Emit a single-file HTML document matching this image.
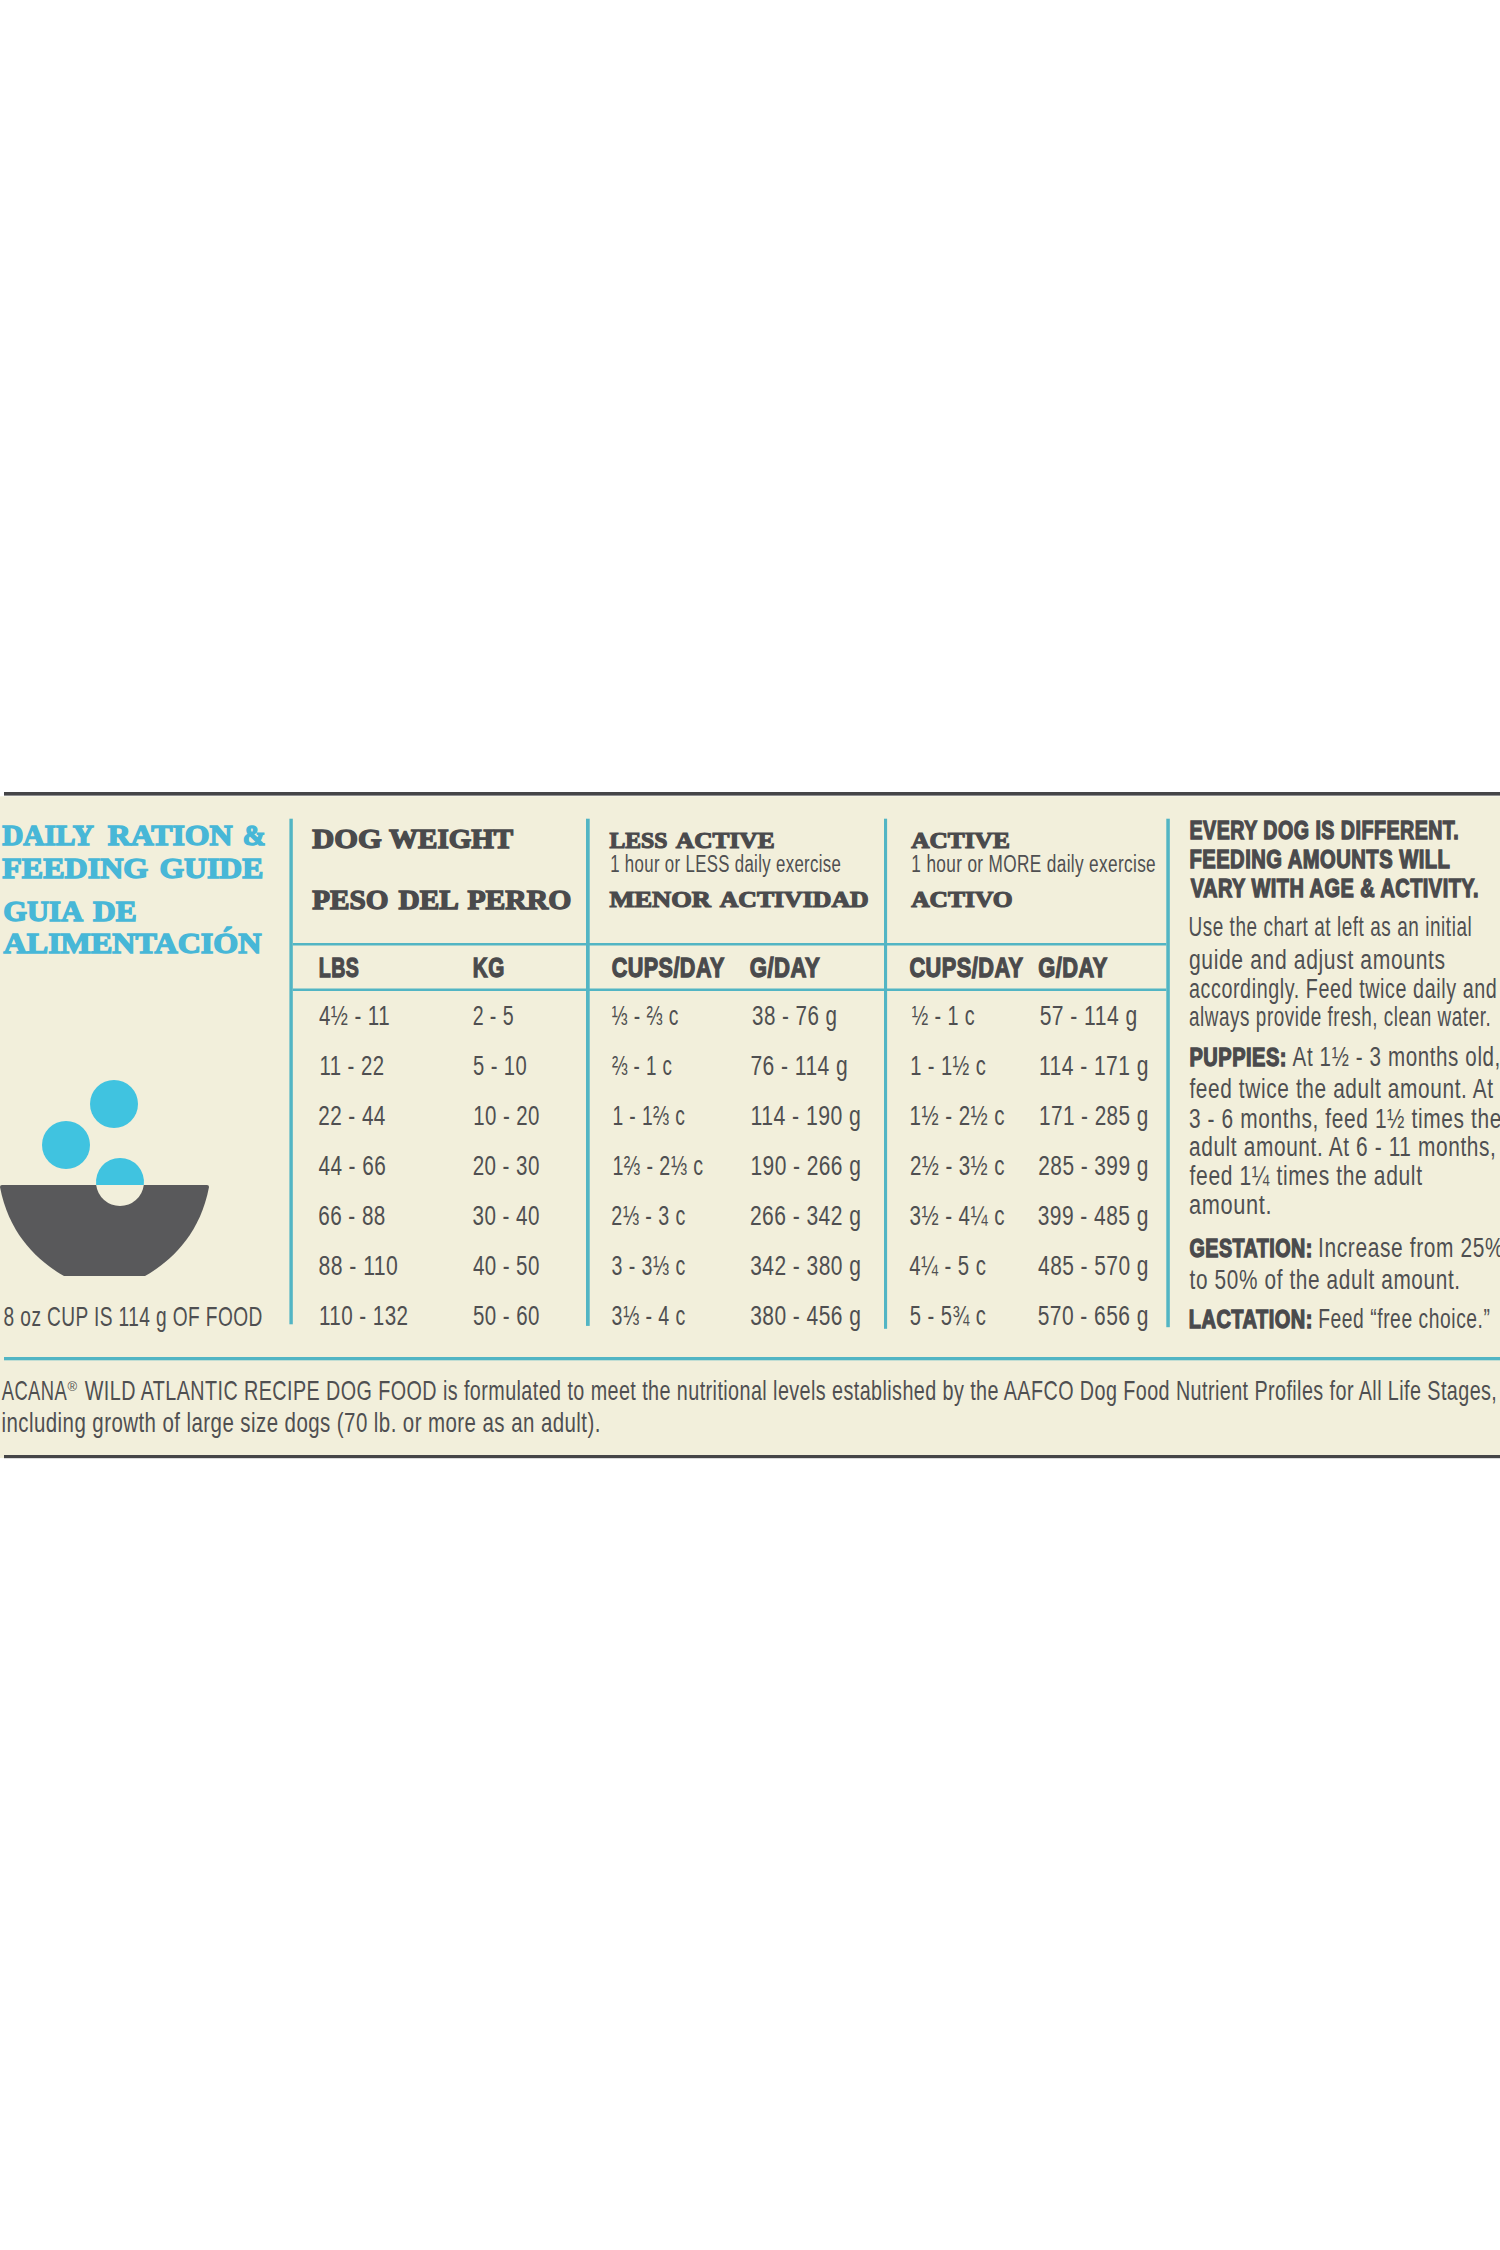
<!DOCTYPE html>
<html><head><meta charset="utf-8"><style>
html,body{margin:0;padding:0;background:#fff;}
body{width:1500px;height:2250px;overflow:hidden;font-family:"Liberation Sans",sans-serif;}
svg{display:block;}
</style></head><body>
<svg width="1500" height="2250" viewBox="0 0 1500 2250">
<rect x="0" y="0" width="1500" height="2250" fill="#ffffff"/>

<rect x="0" y="796.3" width="1500" height="661.7" fill="#f2efdb"/>
<rect x="4" y="792" width="1496" height="3.6" fill="#454547"/>
<rect x="4" y="1455" width="1496" height="3.2" fill="#454547"/>
<rect x="4" y="1357" width="1496" height="3.3" fill="#52b5c4"/>
<rect x="289.4" y="818.7" width="3.4" height="505.6" fill="#52b5c4"/>
<rect x="586" y="818.7" width="3.7" height="507.2" fill="#52b5c4"/>
<rect x="884" y="818.7" width="3.1" height="510.1" fill="#52b5c4"/>
<rect x="1166.3" y="818.7" width="3.5" height="508.5" fill="#52b5c4"/>
<rect x="292.8" y="943" width="873.5" height="2.5" fill="#52b5c4"/>
<rect x="292.8" y="988.5" width="873.5" height="2.5" fill="#52b5c4"/>
<circle cx="114" cy="1104" r="24" fill="#40c3e0"/>
<circle cx="66" cy="1145" r="24" fill="#40c3e0"/>
<path d="M0,1187 Q0,1185 2,1185 L207,1185 Q209,1185 209,1187 C200,1235 170,1262 145,1276 L64,1276 C39,1262 9,1235 0,1187 Z" fill="#59595b"/>
<path d="M96.19,1185 A24,24 0 1 1 143.81,1185 Z" fill="#40c3e0"/>
<path d="M96.19,1185 A24,24 0 0 0 143.81,1185 Z" fill="#f2efdb"/>

<text transform="translate(2.24 845.00) scale(0.9950 1)" font-family="'Liberation Serif'" font-weight="bold" font-size="29.41" fill="#47b7d7" stroke="#47b7d7" stroke-width="1.4">DAILY</text>
<text transform="translate(107.66 845.00) scale(1.0824 1)" font-family="'Liberation Serif'" font-weight="bold" font-size="29.41" fill="#47b7d7" stroke="#47b7d7" stroke-width="1.4">RATION</text>
<text transform="translate(242.67 845.00) scale(0.9336 1)" font-family="'Liberation Serif'" font-weight="bold" font-size="29.41" fill="#47b7d7" stroke="#47b7d7" stroke-width="1.4">&amp;</text>
<text transform="translate(2.26 877.60) scale(1.0901 1)" font-family="'Liberation Serif'" font-weight="bold" font-size="29.41" fill="#47b7d7" stroke="#47b7d7" stroke-width="1.4">FEEDING</text>
<text transform="translate(159.47 877.60) scale(1.0767 1)" font-family="'Liberation Serif'" font-weight="bold" font-size="29.41" fill="#47b7d7" stroke="#47b7d7" stroke-width="1.4">GUIDE</text>
<text transform="translate(3.30 920.80) scale(1.0388 1)" font-family="'Liberation Serif'" font-weight="bold" font-size="29.41" fill="#47b7d7" stroke="#47b7d7" stroke-width="1.4">GUIA</text>
<text transform="translate(93.06 920.80) scale(1.0675 1)" font-family="'Liberation Serif'" font-weight="bold" font-size="29.41" fill="#47b7d7" stroke="#47b7d7" stroke-width="1.4">DE</text>
<text transform="translate(3.56 952.80) scale(1.0918 1)" font-family="'Liberation Serif'" font-weight="bold" font-size="29.41" fill="#47b7d7" stroke="#47b7d7" stroke-width="1.4">ALIMENTACIÓN</text>
<text transform="translate(3.60 1326.30) scale(0.6854 1)" font-family="'Liberation Sans'" font-weight="normal" font-size="27.88" letter-spacing="0.6" fill="#4f4f51">8 oz CUP IS 114 g OF FOOD</text>
<text transform="translate(312.28 848.40) scale(1.0870 1)" font-family="'Liberation Serif'" font-weight="bold" font-size="28.04" fill="#4a4a4c" stroke="#4a4a4c" stroke-width="1.4">DOG</text>
<text transform="translate(389.02 848.40) scale(1.0357 1)" font-family="'Liberation Serif'" font-weight="bold" font-size="28.04" fill="#4a4a4c" stroke="#4a4a4c" stroke-width="1.4">WEIGHT</text>
<text transform="translate(312.27 908.80) scale(1.0414 1)" font-family="'Liberation Serif'" font-weight="bold" font-size="28.04" fill="#4a4a4c" stroke="#4a4a4c" stroke-width="1.4">PESO</text>
<text transform="translate(398.47 908.80) scale(1.0463 1)" font-family="'Liberation Serif'" font-weight="bold" font-size="28.04" fill="#4a4a4c" stroke="#4a4a4c" stroke-width="1.4">DEL</text>
<text transform="translate(467.38 908.80) scale(1.0584 1)" font-family="'Liberation Serif'" font-weight="bold" font-size="28.04" fill="#4a4a4c" stroke="#4a4a4c" stroke-width="1.4">PERRO</text>
<text transform="translate(609.42 848.20) scale(0.9855 1)" font-family="'Liberation Serif'" font-weight="bold" font-size="24.08" fill="#4a4a4c" stroke="#4a4a4c" stroke-width="1.2">LESS</text>
<text transform="translate(675.83 848.20) scale(1.0549 1)" font-family="'Liberation Serif'" font-weight="bold" font-size="24.08" fill="#4a4a4c" stroke="#4a4a4c" stroke-width="1.2">ACTIVE</text>
<text transform="translate(609.45 907.00) scale(1.0983 1)" font-family="'Liberation Serif'" font-weight="bold" font-size="24.08" fill="#4a4a4c" stroke="#4a4a4c" stroke-width="1.2">MENOR</text>
<text transform="translate(719.64 907.00) scale(1.0716 1)" font-family="'Liberation Serif'" font-weight="bold" font-size="24.08" fill="#4a4a4c" stroke="#4a4a4c" stroke-width="1.2">ACTIVIDAD</text>
<text transform="translate(911.13 848.20) scale(1.0549 1)" font-family="'Liberation Serif'" font-weight="bold" font-size="24.08" fill="#4a4a4c" stroke="#4a4a4c" stroke-width="1.2">ACTIVE</text>
<text transform="translate(911.14 907.00) scale(1.0604 1)" font-family="'Liberation Serif'" font-weight="bold" font-size="24.08" fill="#4a4a4c" stroke="#4a4a4c" stroke-width="1.2">ACTIVO</text>
<text transform="translate(610.15 871.80) scale(0.7028 1)" font-family="'Liberation Sans'" font-weight="normal" font-size="23.89" letter-spacing="0.5" fill="#4f4f51">1 hour or LESS daily exercise</text>
<text transform="translate(911.32 871.80) scale(0.7205 1)" font-family="'Liberation Sans'" font-weight="normal" font-size="23.89" letter-spacing="0.5" fill="#4f4f51">1 hour or MORE daily exercise</text>
<text transform="translate(318.83 977.40) scale(0.7064 1)" font-family="'Liberation Sans'" font-weight="bold" font-size="27.73" letter-spacing="0.6" fill="#4a4a4c" stroke="#4a4a4c" stroke-width="1.3">LBS</text>
<text transform="translate(472.79 977.40) scale(0.7452 1)" font-family="'Liberation Sans'" font-weight="bold" font-size="27.73" letter-spacing="0.6" fill="#4a4a4c" stroke="#4a4a4c" stroke-width="1.3">KG</text>
<text transform="translate(611.63 977.40) scale(0.7782 1)" font-family="'Liberation Sans'" font-weight="bold" font-size="27.73" letter-spacing="0.6" fill="#4a4a4c" stroke="#4a4a4c" stroke-width="1.3">CUPS/DAY</text>
<text transform="translate(749.73 977.40) scale(0.7983 1)" font-family="'Liberation Sans'" font-weight="bold" font-size="27.73" letter-spacing="0.6" fill="#4a4a4c" stroke="#4a4a4c" stroke-width="1.3">G/DAY</text>
<text transform="translate(909.43 977.40) scale(0.7851 1)" font-family="'Liberation Sans'" font-weight="bold" font-size="27.73" letter-spacing="0.6" fill="#4a4a4c" stroke="#4a4a4c" stroke-width="1.3">CUPS/DAY</text>
<text transform="translate(1038.23 977.40) scale(0.7869 1)" font-family="'Liberation Sans'" font-weight="bold" font-size="27.73" letter-spacing="0.6" fill="#4a4a4c" stroke="#4a4a4c" stroke-width="1.3">G/DAY</text>
<text transform="translate(318.88 1025.10) scale(0.7329 1)" font-family="'Liberation Sans'" font-weight="normal" font-size="28.02" letter-spacing="0.6" fill="#4f4f51">4½ - 11</text>
<text transform="translate(472.68 1025.10) scale(0.6998 1)" font-family="'Liberation Sans'" font-weight="normal" font-size="28.02" letter-spacing="0.6" fill="#4f4f51">2 - 5</text>
<text transform="translate(611.60 1025.10) scale(0.6885 1)" font-family="'Liberation Sans'" font-weight="normal" font-size="28.02" letter-spacing="0.6" fill="#4f4f51">⅓ - ⅔ c</text>
<text transform="translate(752.06 1025.10) scale(0.7357 1)" font-family="'Liberation Sans'" font-weight="normal" font-size="28.02" letter-spacing="0.6" fill="#4f4f51">38 - 76 g</text>
<text transform="translate(911.69 1025.10) scale(0.7061 1)" font-family="'Liberation Sans'" font-weight="normal" font-size="28.02" letter-spacing="0.6" fill="#4f4f51">½ - 1 c</text>
<text transform="translate(1039.64 1025.10) scale(0.7532 1)" font-family="'Liberation Sans'" font-weight="normal" font-size="28.02" letter-spacing="0.6" fill="#4f4f51">57 - 114 g</text>
<text transform="translate(319.53 1075.10) scale(0.7267 1)" font-family="'Liberation Sans'" font-weight="normal" font-size="28.02" letter-spacing="0.6" fill="#4f4f51">11 - 22</text>
<text transform="translate(472.97 1075.10) scale(0.7198 1)" font-family="'Liberation Sans'" font-weight="normal" font-size="28.02" letter-spacing="0.6" fill="#4f4f51">5 - 10</text>
<text transform="translate(611.91 1075.10) scale(0.6710 1)" font-family="'Liberation Sans'" font-weight="normal" font-size="28.02" letter-spacing="0.6" fill="#4f4f51">⅔ - 1 c</text>
<text transform="translate(750.41 1075.10) scale(0.7519 1)" font-family="'Liberation Sans'" font-weight="normal" font-size="28.02" letter-spacing="0.6" fill="#4f4f51">76 - 114 g</text>
<text transform="translate(910.24 1075.10) scale(0.7177 1)" font-family="'Liberation Sans'" font-weight="normal" font-size="28.02" letter-spacing="0.6" fill="#4f4f51">1 - 1½ c</text>
<text transform="translate(1038.99 1075.10) scale(0.7509 1)" font-family="'Liberation Sans'" font-weight="normal" font-size="28.02" letter-spacing="0.6" fill="#4f4f51">114 - 171 g</text>
<text transform="translate(318.23 1125.10) scale(0.7397 1)" font-family="'Liberation Sans'" font-weight="normal" font-size="28.02" letter-spacing="0.6" fill="#4f4f51">22 - 44</text>
<text transform="translate(473.22 1125.10) scale(0.7286 1)" font-family="'Liberation Sans'" font-weight="normal" font-size="28.02" letter-spacing="0.6" fill="#4f4f51">10 - 20</text>
<text transform="translate(612.50 1125.10) scale(0.6867 1)" font-family="'Liberation Sans'" font-weight="normal" font-size="28.02" letter-spacing="0.6" fill="#4f4f51">1 - 1⅔ c</text>
<text transform="translate(750.47 1125.10) scale(0.7579 1)" font-family="'Liberation Sans'" font-weight="normal" font-size="28.02" letter-spacing="0.6" fill="#4f4f51">114 - 190 g</text>
<text transform="translate(909.62 1125.10) scale(0.7334 1)" font-family="'Liberation Sans'" font-weight="normal" font-size="28.02" letter-spacing="0.6" fill="#4f4f51">1½ - 2½ c</text>
<text transform="translate(1039.00 1125.10) scale(0.7401 1)" font-family="'Liberation Sans'" font-weight="normal" font-size="28.02" letter-spacing="0.6" fill="#4f4f51">171 - 285 g</text>
<text transform="translate(318.38 1175.10) scale(0.7416 1)" font-family="'Liberation Sans'" font-weight="normal" font-size="28.02" letter-spacing="0.6" fill="#4f4f51">44 - 66</text>
<text transform="translate(472.63 1175.10) scale(0.7352 1)" font-family="'Liberation Sans'" font-weight="normal" font-size="28.02" letter-spacing="0.6" fill="#4f4f51">20 - 30</text>
<text transform="translate(612.47 1175.10) scale(0.7012 1)" font-family="'Liberation Sans'" font-weight="normal" font-size="28.02" letter-spacing="0.6" fill="#4f4f51">1⅔ - 2⅓ c</text>
<text transform="translate(750.49 1175.10) scale(0.7470 1)" font-family="'Liberation Sans'" font-weight="normal" font-size="28.02" letter-spacing="0.6" fill="#4f4f51">190 - 266 g</text>
<text transform="translate(909.94 1175.10) scale(0.7309 1)" font-family="'Liberation Sans'" font-weight="normal" font-size="28.02" letter-spacing="0.6" fill="#4f4f51">2½ - 3½ c</text>
<text transform="translate(1038.32 1175.10) scale(0.7447 1)" font-family="'Liberation Sans'" font-weight="normal" font-size="28.02" letter-spacing="0.6" fill="#4f4f51">285 - 399 g</text>
<text transform="translate(318.23 1225.10) scale(0.7399 1)" font-family="'Liberation Sans'" font-weight="normal" font-size="28.02" letter-spacing="0.6" fill="#4f4f51">66 - 88</text>
<text transform="translate(472.56 1225.10) scale(0.7360 1)" font-family="'Liberation Sans'" font-weight="normal" font-size="28.02" letter-spacing="0.6" fill="#4f4f51">30 - 40</text>
<text transform="translate(611.28 1225.10) scale(0.7022 1)" font-family="'Liberation Sans'" font-weight="normal" font-size="28.02" letter-spacing="0.6" fill="#4f4f51">2⅓ - 3 c</text>
<text transform="translate(749.91 1225.10) scale(0.7510 1)" font-family="'Liberation Sans'" font-weight="normal" font-size="28.02" letter-spacing="0.6" fill="#4f4f51">266 - 342 g</text>
<text transform="translate(909.56 1225.10) scale(0.7339 1)" font-family="'Liberation Sans'" font-weight="normal" font-size="28.02" letter-spacing="0.6" fill="#4f4f51">3½ - 4¼ c</text>
<text transform="translate(1037.74 1225.10) scale(0.7487 1)" font-family="'Liberation Sans'" font-weight="normal" font-size="28.02" letter-spacing="0.6" fill="#4f4f51">399 - 485 g</text>
<text transform="translate(318.54 1275.10) scale(0.7565 1)" font-family="'Liberation Sans'" font-weight="normal" font-size="28.02" letter-spacing="0.6" fill="#4f4f51">88 - 110</text>
<text transform="translate(472.88 1275.10) scale(0.7325 1)" font-family="'Liberation Sans'" font-weight="normal" font-size="28.02" letter-spacing="0.6" fill="#4f4f51">40 - 50</text>
<text transform="translate(611.59 1275.10) scale(0.6992 1)" font-family="'Liberation Sans'" font-weight="normal" font-size="28.02" letter-spacing="0.6" fill="#4f4f51">3 - 3⅓ c</text>
<text transform="translate(750.24 1275.10) scale(0.7487 1)" font-family="'Liberation Sans'" font-weight="normal" font-size="28.02" letter-spacing="0.6" fill="#4f4f51">342 - 380 g</text>
<text transform="translate(909.28 1275.10) scale(0.7269 1)" font-family="'Liberation Sans'" font-weight="normal" font-size="28.02" letter-spacing="0.6" fill="#4f4f51">4¼ - 5 c</text>
<text transform="translate(1038.07 1275.10) scale(0.7464 1)" font-family="'Liberation Sans'" font-weight="normal" font-size="28.02" letter-spacing="0.6" fill="#4f4f51">485 - 570 g</text>
<text transform="translate(318.91 1325.10) scale(0.7367 1)" font-family="'Liberation Sans'" font-weight="normal" font-size="28.02" letter-spacing="0.6" fill="#4f4f51">110 - 132</text>
<text transform="translate(472.96 1325.10) scale(0.7316 1)" font-family="'Liberation Sans'" font-weight="normal" font-size="28.02" letter-spacing="0.6" fill="#4f4f51">50 - 60</text>
<text transform="translate(611.59 1325.10) scale(0.6992 1)" font-family="'Liberation Sans'" font-weight="normal" font-size="28.02" letter-spacing="0.6" fill="#4f4f51">3⅓ - 4 c</text>
<text transform="translate(750.24 1325.10) scale(0.7487 1)" font-family="'Liberation Sans'" font-weight="normal" font-size="28.02" letter-spacing="0.6" fill="#4f4f51">380 - 456 g</text>
<text transform="translate(909.87 1325.10) scale(0.7213 1)" font-family="'Liberation Sans'" font-weight="normal" font-size="28.02" letter-spacing="0.6" fill="#4f4f51">5 - 5¾ c</text>
<text transform="translate(1037.74 1325.10) scale(0.7487 1)" font-family="'Liberation Sans'" font-weight="normal" font-size="28.02" letter-spacing="0.6" fill="#4f4f51">570 - 656 g</text>
<text transform="translate(1189.48 839.40) scale(0.7811 1)" font-family="'Liberation Sans'" font-weight="bold" font-size="25.17" letter-spacing="0.6" fill="#4a4a4c" stroke="#4a4a4c" stroke-width="1.3">EVERY DOG IS DIFFERENT.</text>
<text transform="translate(1189.46 868.20) scale(0.8014 1)" font-family="'Liberation Sans'" font-weight="bold" font-size="25.17" letter-spacing="0.6" fill="#4a4a4c" stroke="#4a4a4c" stroke-width="1.3">FEEDING AMOUNTS WILL</text>
<text transform="translate(1190.72 897.40) scale(0.7927 1)" font-family="'Liberation Sans'" font-weight="bold" font-size="25.17" letter-spacing="0.6" fill="#4a4a4c" stroke="#4a4a4c" stroke-width="1.3">VARY WITH AGE &amp; ACTIVITY.</text>
<text transform="translate(1188.42 935.90) scale(0.7081 1)" font-family="'Liberation Sans'" font-weight="normal" font-size="26.74" letter-spacing="0.8" fill="#4f4f51">Use the chart at left as an initial</text>
<text transform="translate(1188.94 968.90) scale(0.7892 1)" font-family="'Liberation Sans'" font-weight="normal" font-size="26.74" letter-spacing="0.8" fill="#4f4f51">guide and adjust amounts</text>
<text transform="translate(1188.98 997.70) scale(0.7373 1)" font-family="'Liberation Sans'" font-weight="normal" font-size="26.74" letter-spacing="0.8" fill="#4f4f51">accordingly. Feed twice daily and</text>
<text transform="translate(1189.01 1025.50) scale(0.7061 1)" font-family="'Liberation Sans'" font-weight="normal" font-size="26.74" letter-spacing="0.8" fill="#4f4f51">always provide fresh, clean water.</text>
<text transform="translate(1189.47 1065.60) scale(0.8063 1)" font-family="'Liberation Sans'" font-weight="bold" font-size="24.89" letter-spacing="0.6" fill="#4a4a4c" stroke="#4a4a4c" stroke-width="1.3">PUPPIES:</text>
<text transform="translate(1292.60 1065.60) scale(0.7693 1)" font-family="'Liberation Sans'" font-weight="normal" font-size="26.74" letter-spacing="0.8" fill="#4f4f51">At 1½ - 3 months old,</text>
<text transform="translate(1189.40 1098.20) scale(0.7796 1)" font-family="'Liberation Sans'" font-weight="normal" font-size="26.74" letter-spacing="0.8" fill="#4f4f51">feed twice the adult amount. At</text>
<text transform="translate(1188.95 1127.50) scale(0.7809 1)" font-family="'Liberation Sans'" font-weight="normal" font-size="26.74" letter-spacing="0.8" fill="#4f4f51">3 - 6 months, feed 1½ times the</text>
<text transform="translate(1188.95 1155.90) scale(0.7803 1)" font-family="'Liberation Sans'" font-weight="normal" font-size="26.74" letter-spacing="0.8" fill="#4f4f51">adult amount. At 6 - 11 months,</text>
<text transform="translate(1189.60 1184.70) scale(0.7864 1)" font-family="'Liberation Sans'" font-weight="normal" font-size="26.74" letter-spacing="0.8" fill="#4f4f51">feed 1¼ times the adult</text>
<text transform="translate(1188.92 1213.50) scale(0.8149 1)" font-family="'Liberation Sans'" font-weight="normal" font-size="26.74" letter-spacing="0.8" fill="#4f4f51">amount.</text>
<text transform="translate(1189.50 1256.70) scale(0.7914 1)" font-family="'Liberation Sans'" font-weight="bold" font-size="24.89" letter-spacing="0.6" fill="#4a4a4c" stroke="#4a4a4c" stroke-width="1.3">GESTATION:</text>
<text transform="translate(1318.07 1256.70) scale(0.7822 1)" font-family="'Liberation Sans'" font-weight="normal" font-size="26.74" letter-spacing="0.8" fill="#4f4f51">Increase from 25%</text>
<text transform="translate(1189.60 1289.30) scale(0.7782 1)" font-family="'Liberation Sans'" font-weight="normal" font-size="26.74" letter-spacing="0.8" fill="#4f4f51">to 50% of the adult amount.</text>
<text transform="translate(1188.87 1327.70) scale(0.8029 1)" font-family="'Liberation Sans'" font-weight="bold" font-size="24.89" letter-spacing="0.6" fill="#4a4a4c" stroke="#4a4a4c" stroke-width="1.3">LACTATION:</text>
<text transform="translate(1318.20 1327.70) scale(0.7194 1)" font-family="'Liberation Sans'" font-weight="normal" font-size="26.74" letter-spacing="0.8" fill="#4f4f51">Feed “free choice.”</text>
<text transform="translate(1.80 1400.00) scale(0.6593 1)" font-family="'Liberation Sans'" font-weight="normal" font-size="27.88" letter-spacing="0.6" fill="#4f4f51">ACANA</text>
<text transform="translate(67.60 1390.80) scale(1.0213 1)" font-family="'Liberation Sans'" font-weight="normal" font-size="12.8" fill="#4f4f51">®</text>
<text transform="translate(84.80 1400.00) scale(0.7087 1)" font-family="'Liberation Sans'" font-weight="normal" font-size="27.88" letter-spacing="0.6" fill="#4f4f51">WILD ATLANTIC RECIPE DOG FOOD is formulated to meet the nutritional levels established by the AAFCO Dog Food Nutrient Profiles for All Life Stages,</text>
<text transform="translate(1.52 1432.00) scale(0.7341 1)" font-family="'Liberation Sans'" font-weight="normal" font-size="27.88" letter-spacing="0.6" fill="#4f4f51">including growth of large size dogs (70 lb. or more as an adult).</text>
</svg>
</body></html>
